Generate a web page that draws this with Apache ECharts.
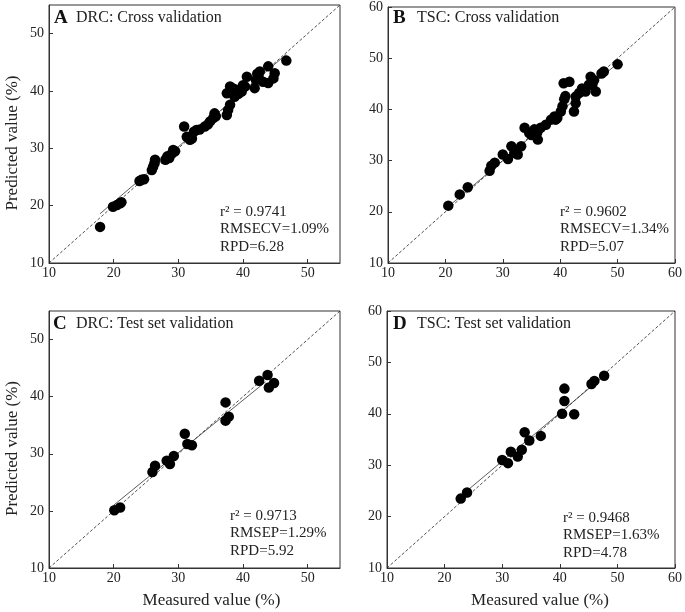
<!DOCTYPE html>
<html><head><meta charset="utf-8">
<script src="https://cdn.jsdelivr.net/npm/echarts@6/dist/echarts.min.js"></script>
<style>html,body{margin:0;padding:0;background:#fff}#c{width:685px;height:612px}</style>
</head><body><div id="c"></div>
<script>
// ---------- Data ----------
const xTicks = [10, 20, 30, 40, 50, 60];

const drcCvMeasured = [17.9,19.9,20.5,21.0,21.2,24.0,24.3,24.7,25.9,26.1,26.3,26.4,28.0,28.3,28.6,29.0,29.2,29.5,30.9,31.3,31.8,32.1,32.4,32.8,33.3,34.1,34.6,34.9,35.4,35.6,35.8,37.5,37.7,38.0,37.5,38.0,38.4,38.7,39.0,39.3,39.8,40.3,40.6,40.0,41.8,42.0,42.4,42.6,42.2,43.1,43.9,44.7,44.9,43.9,46.7];
const drcCvPredicted = [16.3,19.8,20.1,20.4,20.6,24.3,24.5,24.6,26.2,26.8,27.4,28.0,28.0,28.6,28.3,29.1,29.7,29.5,33.8,32.0,31.5,31.7,32.9,33.2,33.3,33.8,34.2,34.7,35.3,36.1,35.6,35.8,36.7,37.6,39.6,40.8,40.5,39.0,40.2,39.5,39.9,40.8,42.5,41.0,40.5,41.9,42.5,43.4,43.0,41.6,41.4,42.2,43.1,44.3,45.3];
const drcCvFit = [[17.9,18.6],[46.7,46.4]];

const tscCvMeasured = [20.5,22.5,23.9,27.7,28.0,28.6,30.0,30.9,31.5,32.0,32.3,32.6,33.2,33.8,34.6,35.0,35.5,36.0,36.1,36.6,37.5,38.4,39.0,39.2,39.5,40.1,40.4,40.7,40.9,40.6,41.6,42.7,42.7,42.4,43.3,43.8,44.4,45.0,45.3,45.9,46.2,45.6,47.2,47.6,50.0];
const tscCvPredicted = [21.2,23.4,24.8,28.0,29.0,29.6,31.2,30.3,32.8,31.5,31.9,31.2,32.8,36.4,35.4,35.0,36.1,35.5,34.1,36.4,37.0,38.0,38.6,38.0,38.3,39.6,40.6,42.0,42.6,45.1,45.4,42.5,41.2,39.6,43.2,44.1,43.5,44.8,46.4,45.7,43.5,44.8,47.0,47.4,48.8];
const tscCvFit = [[20.5,21.0],[50.0,49.0]];

const drcTestMeasured = [20.1,21.0,26.0,26.4,28.2,28.7,29.3,31.0,31.4,32.1,37.3,37.8,37.3,42.5,43.8,44.0,44.8];
const drcTestPredicted = [20.1,20.6,26.8,27.9,28.8,28.2,29.6,33.5,31.7,31.5,35.8,36.5,39.0,42.8,43.8,41.6,42.4];
const drcTestFit = [[20.0,21.0],[43.5,42.6]];

const tscTestMeasured = [22.8,23.9,30.0,31.0,31.5,32.7,33.4,33.9,34.7,36.7,40.4,40.8,40.8,42.5,45.5,46.0,47.7];
const tscTestPredicted = [23.5,24.7,31.0,30.4,32.6,31.7,33.0,36.4,34.8,35.7,40.0,42.5,44.9,39.9,45.8,46.4,47.4];
const tscTestFit = [[22.8,24.0],[47.7,47.4]];

const panelLetters = ['A','B','C','D'];
const panelTitles = ['DRC: Cross validation','TSC: Cross validation','DRC: Test set validation','TSC: Test set validation'];
const statR2 = ['r\u00B2 = 0.9741','r\u00B2 = 0.9602','r\u00B2 = 0.9713','r\u00B2 = 0.9468'];
const statErr = ['RMSECV=1.09%','RMSECV=1.34%','RMSEP=1.29%','RMSEP=1.63%'];
const statRpd = ['RPD=6.28','RPD=5.07','RPD=5.92','RPD=4.78'];
const axisMax = [55, 60, 55, 60];
const yName = 'Predicted value (%)';
const xName = 'Measured value (%)';

// ---------- Layout ----------
const FONT = '"Liberation Serif","Times New Roman",serif';
const grids = [
  {left:49, top:5, width:291, height:258},
  {left:388, top:5, width:289, height:258},
  {left:49, top:311, width:291, height:257},
  {left:387, top:311, width:289, height:257}
];
const titlePos = [[54,76,9],[393,417,9],[53,76,315],[393,417,315]];
const statPos = [[220,203],[560,203],[230,507],[563,509]];

const pts = (xs, ys) => xs.map((x,i)=>[x, ys[i]]);
const data = [
  {s: pts(drcCvMeasured, drcCvPredicted), f: drcCvFit},
  {s: pts(tscCvMeasured, tscCvPredicted), f: tscCvFit},
  {s: pts(drcTestMeasured, drcTestPredicted), f: drcTestFit},
  {s: pts(tscTestMeasured, tscTestPredicted), f: tscTestFit}
];

const axisCommon = (gi, max) => ({
  gridIndex: gi, type:'value', min: xTicks[0], max: max, interval: 10,
  splitLine:{show:false},
  axisLine:{show:true, onZero:false, lineStyle:{color:'#333', width:1}},
  axisTick:{show:true, inside:true, length:4, lineStyle:{color:'#333'}},
  axisLabel:{fontFamily:FONT, fontSize:14, color:'#222', showMaxLabel: max===60, showMinLabel:true}
});

const xAxes = [], yAxes = [], series = [], graphic = [];
for (let i=0;i<4;i++){
  const xa = axisCommon(i, axisMax[i]);
  xa.axisLabel.margin = 3;
  if (i>=2){ xa.name = xName; xa.nameLocation='middle'; xa.nameGap=24;
    xa.nameTextStyle={fontFamily:FONT, fontSize:17, color:'#222', padding: i===2?[0,0,0,34]:[0,0,0,18]}; }
  const ya = axisCommon(i, axisMax[i]);
  ya.axisLabel.margin = 5;
  if (i%2===0){ ya.name = yName; ya.nameLocation='middle'; ya.nameGap=28;
    ya.nameTextStyle={fontFamily:FONT, fontSize:17, color:'#222', padding:[0,18,0,0]}; }
  xAxes.push(xa); yAxes.push(ya);
  series.push({type:'line', xAxisIndex:i, yAxisIndex:i, data:[[xTicks[0],xTicks[0]],[axisMax[i],axisMax[i]]],
    symbol:'none', silent:true, lineStyle:{color:'#222', width:0.8, type:[3,2]}, z:1});
  series.push({type:'line', xAxisIndex:i, yAxisIndex:i, data:data[i].f,
    symbol:'none', silent:true, lineStyle:{color:'#333', width:0.8}, z:2});
  series.push({type:'scatter', xAxisIndex:i, yAxisIndex:i, data:data[i].s,
    symbolSize:10.5, itemStyle:{color:'#000', opacity:1}, z:3});
  const tp = titlePos[i];
  graphic.push({type:'text', left:tp[0], top:tp[2], style:{text:panelLetters[i], font:'bold 19px '+FONT, fill:'#111'}});
  graphic.push({type:'text', left:tp[1], top:tp[2]+1, style:{text:panelTitles[i], font:'16px '+FONT, fill:'#222'}});
  const sp = statPos[i];
  graphic.push({type:'text', left:sp[0], top:sp[1], style:{text:[statR2[i],statErr[i],statRpd[i]].join('\n'), font:'15px '+FONT, fill:'#222', lineHeight:17.5}});
}

const chart = echarts.init(document.getElementById('c'), null, {renderer:'canvas'});
chart.setOption({
  animation:false,
  backgroundColor:'#fff',
  grid: grids.map(g=>Object.assign({show:true, borderColor:'#333', borderWidth:1, containLabel:false}, g)),
  xAxis: xAxes, yAxis: yAxes, series: series, graphic: graphic
});
</script></body></html>
